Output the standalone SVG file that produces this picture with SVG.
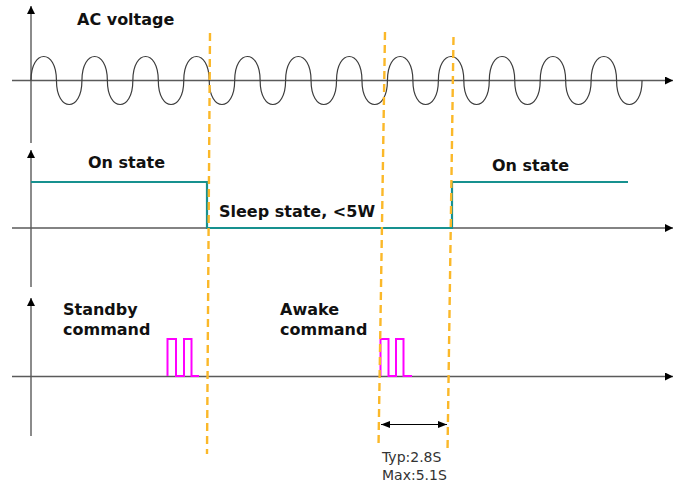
<svg xmlns="http://www.w3.org/2000/svg" width="676" height="487" viewBox="0 0 676 487">
<style>
.axis{stroke:#5a5a5a;stroke-width:1.4;fill:none}
.wave{stroke:#3c3c3c;stroke-width:1.2;fill:none}
.state{stroke:#17918f;stroke-width:2.2;fill:none}
.pulse{stroke:#ff00ff;stroke-width:2;fill:none}
.guide{stroke:#fbb829;stroke-width:2.4;stroke-dasharray:8 5;fill:none}
.dim{stroke:#000;stroke-width:1;fill:none}
.lbl{font-family:"DejaVu Sans","Open Sans",sans-serif;font-weight:bold;font-size:16px;fill:#111}
.note{font-family:"DejaVu Sans","Open Sans",sans-serif;font-size:14px;fill:#333}
</style>
<defs>
<marker id="ah" viewBox="0 0 10 10" refX="10" refY="5" markerWidth="8" markerHeight="8" markerUnits="userSpaceOnUse" orient="auto">
<path d="M0,0 L10,5 L0,10 Z" fill="#000"/>
</marker>
<marker id="dh" viewBox="0 0 10 10" refX="10" refY="5" markerWidth="9" markerHeight="9" markerUnits="userSpaceOnUse" orient="auto-start-reverse">
<path d="M0,1 L10,5 L0,9 Z" fill="#000"/>
</marker>
</defs>

<g id="ac-chart">
<line class="axis" x1="31" y1="143" x2="31" y2="6" marker-end="url(#ah)"/>
<line class="axis" x1="12" y1="80.5" x2="673" y2="80.5" marker-end="url(#ah)"/>
<path class="wave" d="M31,80.5 c0,-32 25.46,-32 25.46,0 c0,32 25.46,32 25.46,0 c0,-32 25.46,-32 25.46,0 c0,32 25.46,32 25.46,0 c0,-32 25.46,-32 25.46,0 c0,32 25.46,32 25.46,0 c0,-32 25.46,-32 25.46,0 c0,32 25.46,32 25.46,0 c0,-32 25.46,-32 25.46,0 c0,32 25.46,32 25.46,0 c0,-32 25.46,-32 25.46,0 c0,32 25.46,32 25.46,0 c0,-32 25.46,-32 25.46,0 c0,32 25.46,32 25.46,0 c0,-32 25.46,-32 25.46,0 c0,32 25.46,32 25.46,0 c0,-32 25.46,-32 25.46,0 c0,32 25.46,32 25.46,0 c0,-32 25.46,-32 25.46,0 c0,32 25.46,32 25.46,0 c0,-32 25.46,-32 25.46,0 c0,32 25.46,32 25.46,0 c0,-32 25.46,-32 25.46,0 c0,32 25.46,32 25.46,0"/>
<text class="lbl" x="77" y="25">AC voltage</text>
</g>

<g id="state-chart">
<line class="axis" x1="31" y1="287" x2="31" y2="150" marker-end="url(#ah)"/>
<line class="axis" x1="12" y1="228" x2="673" y2="228" marker-end="url(#ah)"/>
<path class="state" d="M31,182 H207 V228 H452 V182 H628"/>
<text class="lbl" x="88" y="168">On state</text>
<text class="lbl" x="219" y="217">Sleep state, &lt;5W</text>
<text class="lbl" x="492" y="171">On state</text>
</g>

<g id="command-chart">
<line class="axis" x1="31" y1="436" x2="31" y2="298" marker-end="url(#ah)"/>
<line class="axis" x1="12" y1="376.5" x2="673" y2="376.5" marker-end="url(#ah)"/>
<path class="pulse" d="M167.5,376 V339 H176 V376 H184 V339 H191.5 V376 H199"/>
<path class="pulse" d="M380.5,376 V339 H388.5 V376 H396 V339 H403.5 V376 H412"/>
<text class="lbl" x="63" y="315">Standby</text>
<text class="lbl" x="63" y="335">command</text>
<text class="lbl" x="280" y="315">Awake</text>
<text class="lbl" x="280" y="335">command</text>
</g>

<g id="connectors">
<line class="guide" x1="210" y1="33" x2="207" y2="454"/>
<line class="guide" x1="385" y1="32" x2="378.5" y2="447"/>
<line class="guide" x1="453.5" y1="37" x2="447.5" y2="452"/>
<line class="dim" x1="381" y1="424.5" x2="447" y2="424.5" marker-start="url(#dh)" marker-end="url(#dh)"/>
</g>

<g id="timing-note">
<text class="note" x="382" y="462">Typ:2.8S</text>
<text class="note" x="382" y="480">Max:5.1S</text>
</g>
</svg>
